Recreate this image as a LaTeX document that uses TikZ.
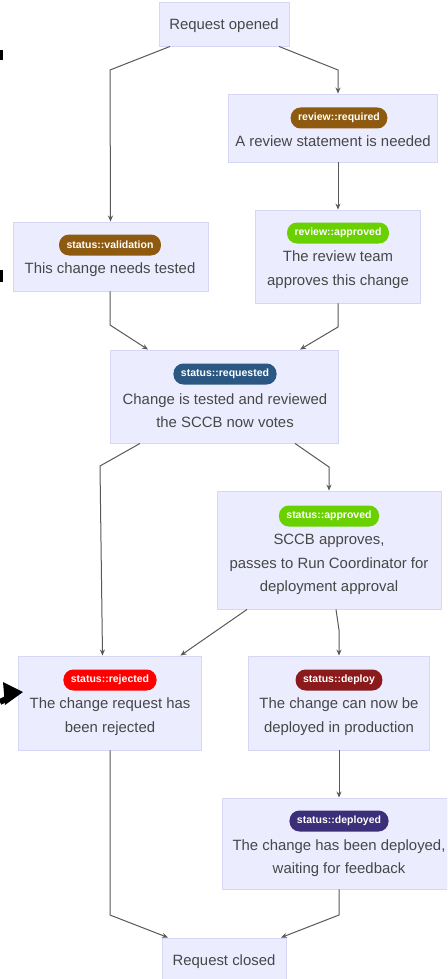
\documentclass[tikz,border=0pt]{standalone}
\usepackage{fontspec}
\setmainfont{Liberation Sans}
\usetikzlibrary{arrows.meta}
\definecolor{boxfill}{HTML}{ECECFF}
\definecolor{boxline}{HTML}{D6D6F5}
\definecolor{txtgray}{HTML}{474747}
\definecolor{edgegray}{HTML}{595959}
\definecolor{cbrown}{HTML}{8E5A0F}
\definecolor{cgreen}{HTML}{69D100}
\definecolor{cblue}{HTML}{2B5882}
\definecolor{cred}{HTML}{FF0000}
\definecolor{cdarkred}{HTML}{8B1A1C}
\definecolor{cpurple}{HTML}{3A2F78}
\tikzset{
  box/.style={draw=boxline, fill=boxfill, line width=0.9pt, rectangle, inner sep=0pt},
  badge/.style={fill=#1, text=white, rounded corners=10pt, inner xsep=7.5pt, inner ysep=0pt,
     minimum height=21pt, font=\bfseries\fontsize{10.5}{12}\selectfont},
  txt/.style={text=txtgray, font=\fontsize{14.9}{23.5}\selectfont, align=center, inner sep=0pt},
  edge/.style={draw=edgegray, line width=1pt, -{Stealth[length=6pt,width=5pt]}},
}
\begin{document}
\begin{tikzpicture}[x=1pt,y=-1pt]
\path[use as bounding box] (0,0) rectangle (447,979);
\clip (0,0) rectangle (447,979);
\fill[white] (0,0) rectangle (447,979);

% boxes
\node[box, minimum width=130pt, minimum height=44pt] (open) at (224,24) {};
\node[box, minimum width=209pt, minimum height=68pt] (req) at (332.5,128) {};
\node[box, minimum width=195pt, minimum height=69pt] (val) at (110.5,256.5) {};
\node[box, minimum width=165pt, minimum height=93pt] (appr) at (337.5,256.5) {};
\node[box, minimum width=228pt, minimum height=93pt] (requested) at (224,396.5) {};
\node[box, minimum width=224pt, minimum height=118pt] (sappr) at (329,550) {};
\node[box, minimum width=183pt, minimum height=94pt] (rej) at (109.5,703) {};
\node[box, minimum width=181pt, minimum height=94pt] (dep) at (338.5,703) {};
\node[box, minimum width=225pt, minimum height=91pt] (deployed) at (334.5,843.5) {};
\node[box, minimum width=124pt, minimum height=44pt] (closed) at (224,960) {};

% badges
\node[badge=cbrown] (b1) at (339,118) {review::required};
\node[badge=cbrown] (b2) at (110,245) {status::validation};
\node[badge=cgreen] (b3) at (338,233) {review::approved};
\node[badge=cblue] (b4) at (225,374) {status::requested};
\node[badge=cgreen] (b5) at (329,516) {status::approved};
\node[badge=cred] (b6) at (110,680) {status::rejected};
\node[badge=cdarkred] (b7) at (339,680) {status::deploy};
\node[badge=cpurple] (b8) at (339,821) {status::deployed};

% texts
\node[txt] (t0) at (224,25.5) {Request opened};
\node[txt] (t1) at (333,141.5) {A review statement is needed};
\node[txt] (t2) at (110,269.5) {This change needs tested};
\node[txt] (t3) at (338,269.5) {The review team\\approves this change};
\node[txt] (t4) at (225,410.5) {Change is tested and reviewed\\the SCCB now votes};
\node[txt] (t5) at (329,564.5) {SCCB approves,\\passes to Run Coordinator for\\deployment approval};
\node[txt] (t6) at (110,716.5) {The change request has\\been rejected};
\node[txt] (t7) at (339,716.5) {The change can now be\\deployed in production};
\node[txt] (t8) at (339,858) {The change has been deployed,\\waiting for feedback};
\node[txt] (t9) at (224,961.5) {Request closed};

% edges
\draw[edge] ([xshift=-54pt]open.south) -- (110,70) -- (val.north);
\draw[edge] ([xshift=55pt]open.south) -- (338,70) -- ([xshift=5.5pt]req.north);
\draw[edge] ([xshift=5.5pt]req.south) -- ([xshift=0.5pt]appr.north);
\draw[edge] ([xshift=-0.5pt]val.south) -- (110,325) -- ([xshift=-76pt]requested.north);
\draw[edge] ([xshift=0.5pt]appr.south) -- (338,327) -- ([xshift=76pt]requested.north);
\draw[edge] ([xshift=-84pt]requested.south) -- (100,466) -- ([xshift=-7pt]rej.north);
\draw[edge] ([xshift=71pt]requested.south) -- (329,467) -- (sappr.north);
\draw[edge] ([xshift=-82pt]sappr.south) -- ([xshift=71pt]rej.north);
\draw[edge] ([xshift=7pt]sappr.south) -- (339,630) -- ([xshift=0.5pt]dep.north);
\draw[edge] ([xshift=0.5pt]rej.south) -- (110,915) -- ([xshift=-56pt]closed.north);
\draw[edge] ([xshift=0.5pt]dep.south) -- ([xshift=4.5pt]deployed.north);
\draw[edge] ([xshift=4.5pt]deployed.south) -- (339,915) -- ([xshift=57pt]closed.north);

% cropped annotation marks at left edge
\fill[black] (0,50) rectangle (3,60);
\fill[black] (0,270) rectangle (3,282);
\coordinate (atip) at (23,692);
\fill[black] (atip) -- (3,682) -- (5,705) -- cycle;
\draw[black, line width=6pt] (0,702) -- (8,698);
\end{tikzpicture}
\end{document}
